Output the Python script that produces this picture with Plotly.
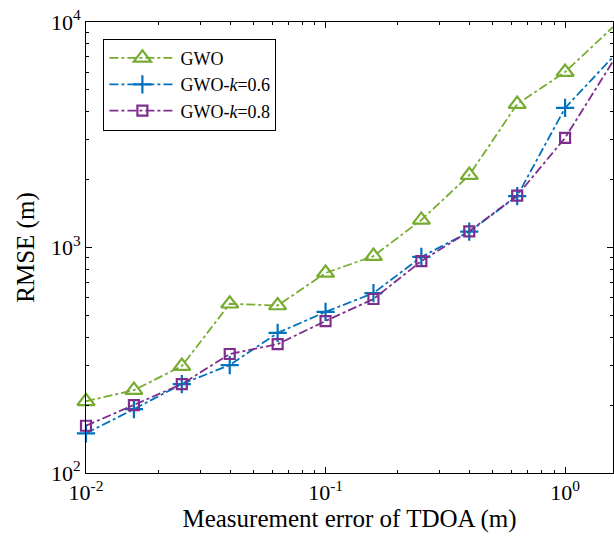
import plotly.graph_objects as go

x_err = [0.01, 0.01585, 0.02512, 0.03981, 0.0631, 0.1, 0.1585, 0.2512, 0.3981, 0.631, 1.0, 1.585]
gwo = [208, 233, 298, 563, 553, 771, 916, 1325, 2094, 4325, 6000, 9500]
gwo_k06 = [150, 192, 248, 301, 418, 518, 628, 908, 1175, 1691, 4158, 7000]
gwo_k08 = [162, 200, 248, 337, 373, 472, 591, 871, 1180, 1700, 3063, 6700]

x_ticks = [0.01, 0.1, 1]
x_ticktext = ["10<sup>-2</sup>", "10<sup>-1</sup>", "10<sup>0</sup>"]
y_ticks = [100, 1000, 10000]
y_ticktext = ["10<sup>2</sup>", "10<sup>3</sup>", "10<sup>4</sup>"]

x_minor = [m * 10 ** e for e in (-2, -1, 0) for m in range(2, 10)]
y_minor = [m * 10 ** e for e in (2, 3) for m in range(2, 10)]

FONT = "Liberation Serif"

fig = go.Figure()
series = [
    ("GWO", gwo, "#77AC30", "triangle-up-open", 15),
    ("GWO-<i>k</i>=0.6", gwo_k06, "#0072BD", "cross-thin-open", 13),
    ("GWO-<i>k</i>=0.8", gwo_k08, "#7E2F8E", "square-open", 10),
]
for name, ys, col, sym, sz in series:
    fig.add_trace(go.Scatter(
        x=x_err, y=ys, name=name, mode="lines+markers",
        line=dict(color=col, width=1.8, dash="dashdot"),
        marker=dict(symbol=sym, size=sz, color=col, line=dict(color=col, width=2.2)),
        cliponaxis=False,
    ))

axis_common = dict(
    showgrid=False, zeroline=False, showline=True, linecolor="black", linewidth=1,
    mirror="allticks", ticks="inside", ticklen=6, tickcolor="black",
    tickfont=dict(family=FONT, size=22, color="black"),
)
fig.update_xaxes(
    type="log", range=[-2, 0.2], tickvals=x_ticks, ticktext=x_ticktext,
    minor=dict(tickvals=x_minor, ticks="inside", ticklen=3, tickcolor="black"),
    title=dict(text="Measurement error of TDOA (m)", font=dict(family=FONT, size=25, color="black"), standoff=5),
    **axis_common,
)
fig.update_yaxes(
    type="log", range=[2, 4], tickvals=y_ticks, ticktext=y_ticktext,
    minor=dict(tickvals=y_minor, ticks="inside", ticklen=3, tickcolor="black"),
    title=dict(text="RMSE (m)", font=dict(family=FONT, size=25, color="black"), standoff=9),
    **axis_common,
)
fig.update_layout(
    width=614, height=546,
    margin=dict(l=86, r=1, t=22, b=73),
    plot_bgcolor="white", paper_bgcolor="white",
    font=dict(family=FONT, size=18, color="black"),
    legend=dict(
        x=0.033, y=0.963, xanchor="left", yanchor="top",
        bgcolor="white", bordercolor="black", borderwidth=1,
        font=dict(family=FONT, size=18, color="black"),
        tracegroupgap=0, itemwidth=66,
    ),
)
fig.write_html("out.html")
